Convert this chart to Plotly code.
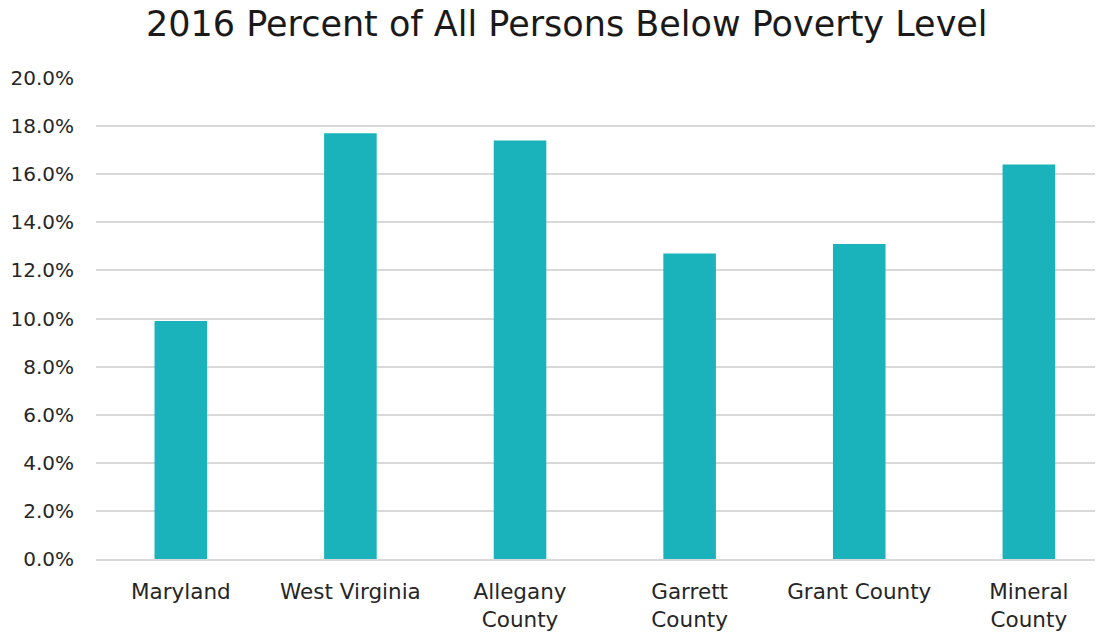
import plotly.graph_objects as go

categories = ["Maryland", "West Virginia", "Allegany<br>County", "Garrett<br>County", "Grant County", "Mineral<br>County"]
values = [0.099, 0.177, 0.174, 0.127, 0.131, 0.164]
tick_vals = [0, 0.02, 0.04, 0.06, 0.08, 0.10, 0.12, 0.14, 0.16, 0.18, 0.20]
tick_text = ["0.0%", "2.0%", "4.0%", "6.0%", "8.0%", "10.0%", "12.0%", "14.0%", "16.0%", "18.0%", "20.0%"]

FONT = "DejaVu Sans"

fig = go.Figure(go.Bar(
    x=list(range(len(categories))),
    y=values,
    width=0.31,
    marker=dict(color="#1AB3BB", line=dict(width=0)),
))

fig.update_layout(
    width=1107, height=634,
    margin=dict(l=96, r=12, t=78, b=75),
    paper_bgcolor="white", plot_bgcolor="white",
    title=dict(text="2016 Percent of All Persons Below Poverty Level",
               x=0.512, xanchor="center", y=0.963, yanchor="middle",
               font=dict(family=FONT, size=35, color="#1a1a1a")),
    font=dict(family=FONT, size=21, color="#262626"),
    showlegend=False,
    bargap=0.69,
)
fig.update_xaxes(
    tickmode="array", tickvals=list(range(len(categories))), ticktext=categories,
    range=[-0.5, 5.39], showgrid=False, zeroline=False, automargin=False,
    showline=True, linecolor="#D9D9D9", linewidth=1.5,
    ticks="", ticklabelstandoff=12,
    tickfont=dict(family=FONT, size=21.5, color="#262626"),
)
fig.update_yaxes(
    range=[0, 0.2], tickmode="array", tickvals=tick_vals, ticktext=tick_text,
    showgrid=True, gridcolor="#D9D9D9", gridwidth=1.5, zeroline=False, automargin=False,
    showline=False, ticks="", ticklen=0, ticklabelstandoff=21,
    tickfont=dict(family=FONT, size=20, color="#262626"),
)

fig.write_html("out.html")
